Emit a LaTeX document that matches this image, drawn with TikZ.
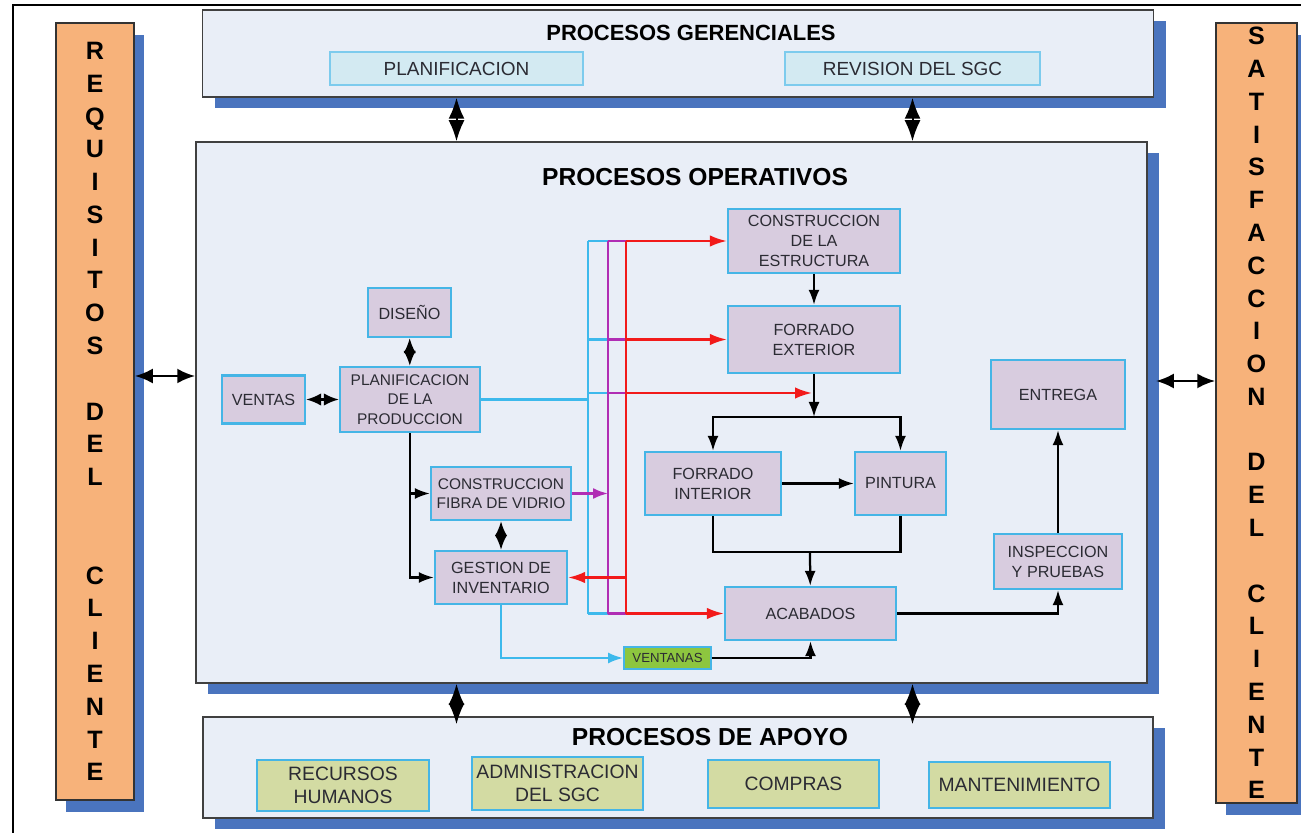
\documentclass[tikz,border=0pt]{standalone}
\usepackage{fontspec}
\setmainfont{Liberation Sans}
\usetikzlibrary{arrows.meta,positioning,shadows}

\definecolor{frameback}{HTML}{E9EEF7}
\definecolor{shadowblue}{HTML}{4A74BE}
\definecolor{clientorange}{HTML}{F7B27A}
\definecolor{proclilac}{HTML}{D8CCDF}
\definecolor{edgecyan}{HTML}{45B5E6}
\definecolor{gerfill}{HTML}{D3EAF2}
\definecolor{apoyofill}{HTML}{D3DBA3}
\definecolor{ventanagreen}{HTML}{8DC63F}
\definecolor{busred}{HTML}{F21A1A}
\definecolor{busmagenta}{HTML}{B02DB4}
\definecolor{buscyan}{HTML}{3DB9EC}
\definecolor{inktext}{HTML}{2B2B33}

\begin{document}
\begin{tikzpicture}[x=0.2mm, y=-0.2mm,
    boxsize/.style 2 args={minimum width=#1*0.2mm, minimum height=#2*0.2mm},
    clientcol/.style={rectangle, draw=black!80, fill=clientorange, line width=0.3mm, align=center, inner sep=0pt,
        font=\fontsize{14.3}{18.66}\bfseries\selectfont,
        drop shadow={shadow xshift=2mm, shadow yshift=-2.4mm, fill=shadowblue, opacity=1}},
    procframe/.style={rectangle, draw=black!75, fill=frameback, line width=0.3mm,
        drop shadow={shadow xshift=2.4mm, shadow yshift=-2.2mm, fill=shadowblue, opacity=1}},
    frametitle/.style={font=\fontsize{14}{16}\bfseries\selectfont, inner sep=0pt},
    proc/.style={rectangle, draw=edgecyan, fill=proclilac, line width=0.45mm, align=center, text=inktext,
        font=\fontsize{9.2}{11.4}\selectfont, inner sep=1pt},
    gerbox/.style={proc, draw=edgecyan!70, fill=gerfill, font=\fontsize{10.8}{13}\selectfont},
    apoyobox/.style={proc, fill=apoyofill, font=\fontsize{11}{13}\selectfont},
    arrow/.style={-{Latex[length=3mm, width=2.2mm]}, line width=0.45mm},
    redarrow/.style={-{Latex[length=3.4mm, width=2.3mm]}, line width=0.45mm, busred},
    busline/.style={line width=0.45mm},
    twoway/.style={{Latex[length=3mm, width=2.5mm]}-{Latex[length=3mm, width=2.5mm]}, line width=0.45mm},
    sidelink/.style={{Latex[length=3.6mm, width=3mm]}-{Latex[length=3.6mm, width=3mm]}, line width=0.55mm},
    diamondlink/.style={{Latex[length=4.2mm, width=3.2mm]}-{Latex[length=4.2mm, width=3.2mm]}, line width=0.4mm}]

    \useasboundingbox (0,0) rectangle (1301,833);
    \draw[line width=0.4mm] (13,833) -- (13,5) -- (1301,5);

    % client columns
    \node[clientcol, boxsize={78}{777}] (requisitos) at (95,411.5)
        {R\\E\\Q\\U\\I\\S\\I\\T\\O\\S\\~\\D\\E\\L\\~\\~\\C\\L\\I\\E\\N\\T\\E};
    \node[clientcol, boxsize={81}{780}] (satisfaccion) at (1256.5,413)
        {S\\A\\T\\I\\S\\F\\A\\C\\C\\I\\O\\N\\~\\D\\E\\L\\~\\C\\L\\I\\E\\N\\T\\E};

    % process frames
    \node[procframe, boxsize={951}{87}] (gerencial) at (678,53.5) {};
    \node[frametitle, font=\fontsize{12.5}{14}\bfseries\selectfont] (gerencialT) at (691,33) {PROCESOS GERENCIALES};
    \node[gerbox, boxsize={253}{33}] (gplan) at (456.5,68.5) {PLANIFICACION};
    \node[gerbox, boxsize={255}{33}] (grev) at (912.5,68.5) {REVISION DEL SGC};

    \node[procframe, boxsize={951}{541}] (operativo) at (671.5,412.5) {};
    \node[frametitle] (operativoT) at (695,177) {PROCESOS OPERATIVOS};

    \node[procframe, boxsize={950}{101}] (apoyo) at (678,767.5) {};
    \node[frametitle] (apoyoT) at (710,737) {PROCESOS DE APOYO};
    \node[apoyobox, boxsize={172}{51}] (rrhh) at (343,785.5) {RECURSOS\\HUMANOS};
    \node[apoyobox, boxsize={171}{53}] (admsgc) at (557.5,783.5) {ADMNISTRACION\\DEL SGC};
    \node[apoyobox, boxsize={171}{48}] (compras) at (793.5,784) {COMPRAS};
    \node[apoyobox, boxsize={181}{46}] (manten) at (1019.5,785) {MANTENIMIENTO};

    % operative processes
    \node[proc, boxsize={83}{49}] (diseno) at (409.5,312.5) {DISEÑO};
    \node[proc, boxsize={83}{48}] (ventas) at (263.5,399.5) {VENTAS};
    \node[proc, boxsize={140}{65}, font=\fontsize{8.8}{11}\selectfont] (planprod) at (410,399.5) {PLANIFICACION\\DE LA\\PRODUCCION};
    \node[proc, boxsize={140}{53}, font=\fontsize{8.8}{11}\selectfont] (fibra) at (501,493.5) {CONSTRUCCION\\FIBRA DE VIDRIO};
    \node[proc, boxsize={132}{53}] (inventario) at (501,577.5) {GESTION DE\\INVENTARIO};
    \node[proc, boxsize={172}{64}] (estructura) at (814,241) {CONSTRUCCION\\DE LA\\ESTRUCTURA};
    \node[proc, boxsize={172}{67}] (exterior) at (814,339.5) {FORRADO\\EXTERIOR};
    \node[proc, boxsize={136}{63}] (interior) at (713,483.5) {FORRADO\\INTERIOR};
    \node[proc, boxsize={91}{63}] (pintura) at (900.5,483.5) {PINTURA};
    \node[proc, boxsize={171}{53}] (acabados) at (810.5,613.5) {ACABADOS};
    \node[proc, boxsize={134}{69}] (entrega) at (1058,394.5) {ENTREGA};
    \node[proc, boxsize={128}{55}] (inspeccion) at (1058,561.5) {INSPECCION\\Y PRUEBAS};
    \node[proc, fill=ventanagreen, boxsize={87}{22}, line width=0.35mm, font=\fontsize{7.5}{9}\selectfont] (ventanas) at (667.5,658) {VENTANAS};

    \coordinate (busC) at (588,400);
    \coordinate (busM) at (608,400);
    \coordinate (busR) at (626,400);
    \coordinate (tap) at (812,393);
    \coordinate (split) at (814,417);
    \coordinate (join) at (810,552);
    \coordinate (sideL) at (165,376);
    \coordinate (sideR) at (1185,381);

    % Links between frames
    \draw[diamondlink] (gplan |- gerencial.south) -- (gplan |- operativo.north);
    \draw[diamondlink] (grev |- gerencial.south) -- (grev |- operativo.north);
    \draw[diamondlink] (gplan |- operativo.south) -- ([yshift=-1.6mm]gplan |- apoyo.north);
    \draw[diamondlink] (grev |- operativo.south) -- ([yshift=-1.6mm]grev |- apoyo.north);
    \draw[sidelink] (requisitos.east |- sideL) -- (operativo.west |- sideL);
    \draw[sidelink] ([xshift=1.6mm]operativo.east |- sideR) -- (satisfaccion.west |- sideR);

    % Planning side
    \draw[twoway] (diseno) -- (planprod);
    \draw[twoway] (ventas) -- (planprod);
    \draw[twoway] (fibra) -- (inventario);
    \draw[arrow] (planprod.south) |- (fibra.west);
    \draw[arrow] (planprod.south) |- (inventario.west);

    % Bus lines
    \draw[busline, buscyan] (planprod.east) -- (busC |- planprod.east);
    \draw[busline, buscyan] (busC |- estructura) -- (busC |- acabados);
    \foreach \n in {estructura, exterior, tap, acabados}
        \draw[busline, buscyan] (busC |- \n) -- (busM |- \n);
    \draw[busline, busmagenta] (busM |- estructura) -- (busM |- acabados);
    \foreach \n in {estructura, exterior, tap, acabados}
        \draw[busline, busmagenta] (busM |- \n) -- (busR |- \n);
    \draw[arrow, busmagenta] (fibra.east) -- (busM |- fibra.east);
    \draw[busline, busred] (busR |- estructura) -- (busR |- acabados);
    \draw[redarrow] (busR |- estructura) -- (estructura.west);
    \draw[redarrow] (busR |- exterior) -- (exterior.west);
    \draw[redarrow] (busR |- tap) -- (tap);
    \draw[redarrow] (busR |- acabados) -- (acabados.west);
    \draw[redarrow] (busR |- inventario) -- (inventario.east);

    % Production line
    \draw[arrow] (estructura) -- (exterior);
    \draw[arrow] (exterior) -- (split);
    \draw[arrow] (split) -| (interior);
    \draw[arrow] (split) -| (pintura);
    \draw[arrow] (interior) -- (pintura);
    \draw[busline] (interior.south) |- (join) -| (pintura.south);
    \draw[arrow] (join) -- (acabados);
    \draw[arrow, buscyan] (inventario.south) |- (ventanas.west);
    \draw[arrow] (ventanas.east) -| (acabados.south);
    \draw[arrow] (acabados.east) -| (inspeccion.south);
    \draw[arrow] (inspeccion) -- (entrega);
\end{tikzpicture}
\end{document}
